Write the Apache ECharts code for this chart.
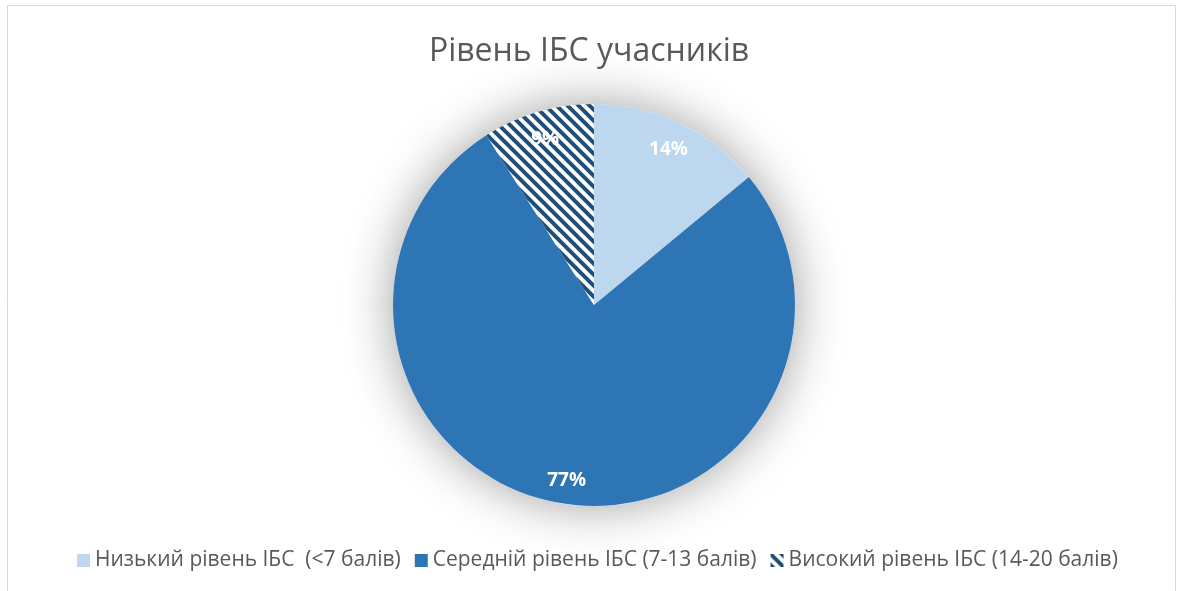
<!DOCTYPE html>
<html>
<head>
<meta charset="utf-8">
<script src="https://cdn.jsdelivr.net/npm/echarts@6/dist/echarts.min.js"></script>
<style>html,body{margin:0;padding:0;background:#fff}#c{width:1178px;height:591px}</style>
</head>
<body>
<div id="c"></div>
<script>
const titleText = 'Рівень ІБС учасників';
const categories = ['Низький рівень ІБС  (<7 балів)', 'Середній рівень ІБС (7-13 балів)', 'Високий рівень ІБС (14-20 балів)'];
const values = [14, 77, 9];

function stripePattern() {
  const s = 11;
  const cv = document.createElement('canvas');
  cv.width = s; cv.height = s;
  const ctx = cv.getContext('2d');
  ctx.fillStyle = '#ffffff';
  ctx.fillRect(0, 0, s, s);
  ctx.strokeStyle = '#1F4E79';
  ctx.lineWidth = 4;
  ctx.beginPath();
  ctx.moveTo(-2, -2); ctx.lineTo(s + 2, s + 2);
  ctx.moveTo(-2, s - 2); ctx.lineTo(2, s + 2);
  ctx.moveTo(s - 2, -2); ctx.lineTo(s + 2, 2);
  ctx.stroke();
  return cv;
}
const colors = ['#BDD7EE', '#2E75B6', { image: stripePattern(), repeat: 'repeat' }];
const FONT = 'Open Sans';

const chart = echarts.init(document.getElementById('c'), null, { renderer: 'canvas' });
const mainData = categories.map((n, i) => ({ name: n, value: values[i], itemStyle: { color: colors[i] } }));
chart.setOption({
  animation: false,
  backgroundColor: '#ffffff',
  graphic: [{
    type: 'rect', silent: true, z: -10,
    shape: { x: 7.5, y: 5.5, width: 1168, height: 640 },
    style: { fill: 'none', stroke: '#d9d9d9', lineWidth: 1 }
  }],
  title: {
    text: titleText, left: 'center', top: 31,
    textStyle: { fontFamily: FONT, fontSize: 32, fontWeight: 'normal', color: '#595959' }
  },
  legend: {
    data: categories, bottom: 15, left: 72,
    itemWidth: 13, itemHeight: 13, itemGap: 14, icon: 'rect',
    textStyle: { fontFamily: FONT, fontSize: 21, color: '#595959', padding: [0, 0, 0, 0] }
  },
  series: [
    {
      type: 'pie', center: [594, 305], radius: [0, 201], silent: true, z: 1,
      label: { show: false }, labelLine: { show: false },
      data: [{ name: '__shadow', value: 1, itemStyle: { color: '#ffffff', shadowBlur: 50, shadowColor: 'rgba(0,0,0,0.38)' } }]
    },
    {
      type: 'pie', center: [594, 305], radius: [0, 201], startAngle: 90, clockwise: true, z: 2,
      label: { show: false }, labelLine: { show: false },
      itemStyle: { borderWidth: 0 },
      data: mainData
    },
    {
      type: 'pie', center: [594, 305], radius: [143, 201], startAngle: 90, clockwise: true, z: 3, silent: true,
      itemStyle: { color: 'rgba(0,0,0,0)' },
      labelLine: { show: false },
      label: {
        show: true, position: 'inside', formatter: '{d}%',
        fontFamily: FONT, fontSize: 19, fontWeight: 'bold', color: '#ffffff', offset: [0, 3]
      },
      data: categories.map((n, i) => ({ name: n, value: values[i] }))
    }
  ]
});
</script>
</body>
</html>
